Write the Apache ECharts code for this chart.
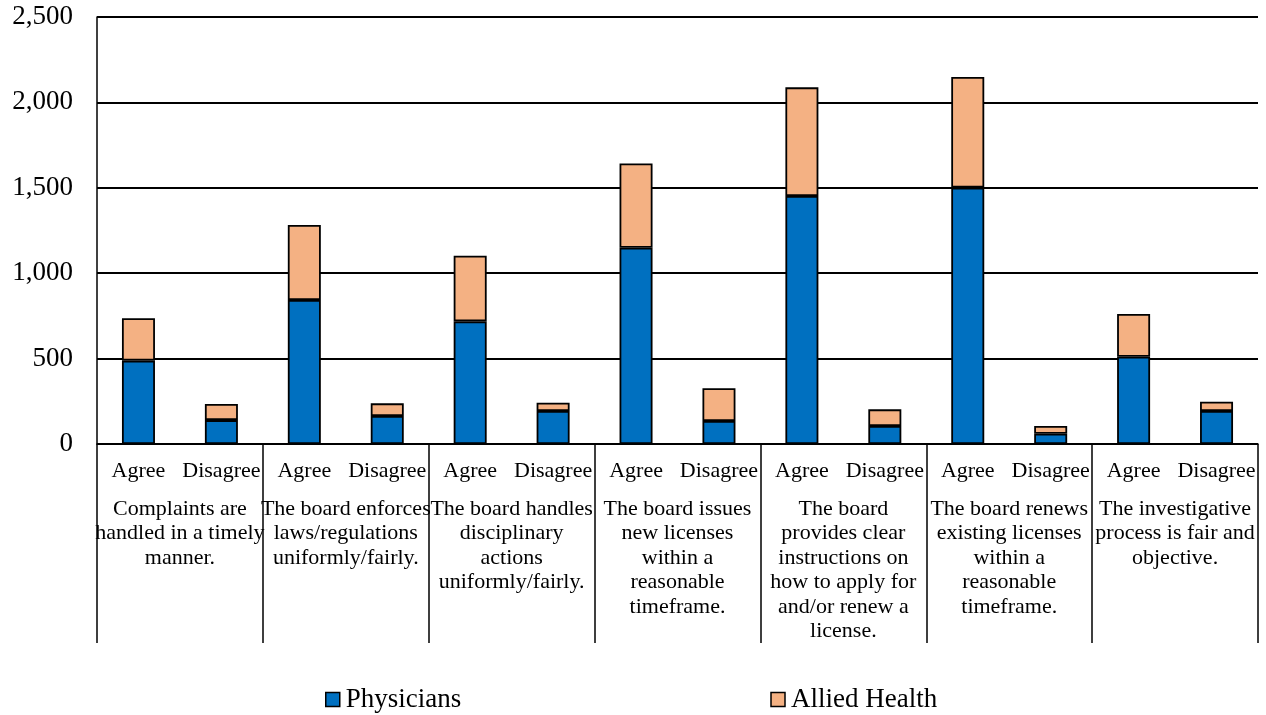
<!DOCTYPE html>
<html>
<head>
<meta charset="utf-8">
<script src="https://cdn.jsdelivr.net/npm/echarts@6/dist/echarts.min.js"></script>
<style>
  html, body { margin: 0; padding: 0; background: #fff; }
  #chart { width: 1266px; height: 715px; }
</style>
</head>
<body>
<div id="chart"></div>
<script>
// Survey responses per statement, split by respondent type
const responses = ['Agree', 'Disagree', 'Agree', 'Disagree', 'Agree', 'Disagree', 'Agree', 'Disagree',
                   'Agree', 'Disagree', 'Agree', 'Disagree', 'Agree', 'Disagree'];
const statements = [
  'Complaints are\nhandled in a timely\nmanner.',
  'The board enforces\nlaws/regulations\nuniformly/fairly.',
  'The board handles\ndisciplinary\nactions\nuniformly/fairly.',
  'The board issues\nnew licenses\nwithin a\nreasonable\ntimeframe.',
  'The board\nprovides clear\ninstructions on\nhow to apply for\nand/or renew a\nlicense.',
  'The board renews\nexisting licenses\nwithin a\nreasonable\ntimeframe.',
  'The investigative\nprocess is fair and\nobjective.'
];
const physicians = [488, 140, 843, 164, 718, 193, 1149, 135, 1452, 105, 1501, 60, 511, 193];
const alliedHealth = [248, 94, 439, 74, 384, 49, 494, 191, 636, 98, 648, 45, 250, 55];
const yTicks = { min: 0, max: 2500, interval: 500 };

const FONT = '"Liberation Serif", "Times New Roman", serif';
const chart = echarts.init(document.getElementById('chart'));

chart.setOption({
  animation: false,
  backgroundColor: '#fff',
  textStyle: { fontFamily: FONT, color: '#000' },
  grid: { left: 97, right: 8, top: 17, bottom: 271, containLabel: false },
  legend: {
    left: 320,
    top: 681,
    itemWidth: 14,
    itemHeight: 14,
    itemGap: 309,
    icon: 'rect',
    itemStyle: { borderColor: '#000', borderWidth: 1.5 },
    textStyle: { fontFamily: FONT, fontSize: 27, color: '#000', padding: [0, 0, 0, 1] },
    data: ['Physicians', 'Allied Health']
  },
  xAxis: [
    {
      type: 'category',
      data: responses,
      position: 'bottom',
      axisLine: { show: true, lineStyle: { color: '#000', width: 1.5 } },
      axisTick: { show: false },
      axisLabel: {
        interval: 0, margin: 16, fontSize: 22, lineHeight: 22,
        fontFamily: FONT, color: '#000'
      }
    },
    {
      type: 'category',
      data: statements,
      position: 'bottom',
      axisLine: { show: false },
      axisTick: { show: true, interval: 0, length: 199, lineStyle: { color: '#000', width: 1.5 } },
      axisLabel: {
        interval: 0, margin: 53, fontSize: 22, lineHeight: 24.4,
        fontFamily: FONT, color: '#000', align: 'center'
      },
      splitLine: { show: false }
    }
  ],
  yAxis: {
    type: 'value',
    min: yTicks.min,
    max: yTicks.max,
    interval: yTicks.interval,
    axisLine: { show: true, lineStyle: { color: '#000', width: 1.5 } },
    axisTick: { show: false },
    axisLabel: {
      margin: 24, fontSize: 27, fontFamily: FONT, color: '#000',
      formatter: v => v.toLocaleString('en-US')
    },
    splitLine: { show: true, lineStyle: { color: '#000', width: 1.8 } }
  },
  series: [
    {
      name: 'Physicians',
      type: 'bar',
      stack: 'total',
      xAxisIndex: 0,
      barWidth: 33,
      data: physicians,
      itemStyle: { color: '#0070C0', borderColor: '#000', borderWidth: 1.8 }
    },
    {
      name: 'Allied Health',
      type: 'bar',
      stack: 'total',
      xAxisIndex: 0,
      barWidth: 33,
      data: alliedHealth,
      itemStyle: { color: '#F4B183', borderColor: '#000', borderWidth: 1.8 }
    }
  ]
});
</script>
</body>
</html>
